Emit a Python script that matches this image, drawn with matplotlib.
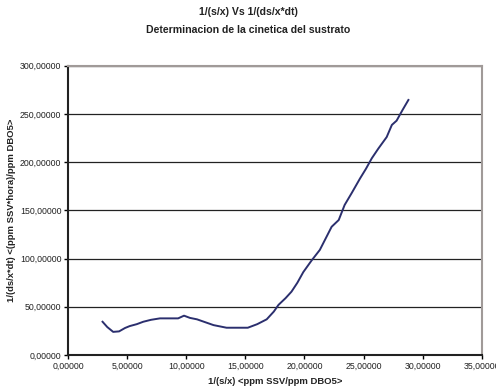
import matplotlib
matplotlib.use("Agg")
import matplotlib.pyplot as plt
from matplotlib.ticker import FuncFormatter

# values
x_vals = [2.9, 3.3, 3.8, 4.3, 4.8, 5.2, 5.8, 6.35, 7.0, 7.76, 8.5, 9.3, 9.8,
          10.3, 10.9, 11.6, 12.3, 13.4, 14.3, 15.2, 16.0, 16.8, 17.4, 17.8,
          18.4, 18.9, 19.4, 19.9, 20.6, 21.3, 21.8, 22.3, 22.9, 23.4, 24.0,
          24.7, 25.2, 25.7, 26.25, 26.96, 27.4, 27.8, 28.3, 28.8]
y_vals = [34.5, 29.0, 24.0, 24.5, 28.0, 30.0, 32.0, 34.5, 36.5, 38.0, 38.0, 38.0, 40.8,
          38.5, 37.0, 34.0, 31.0, 28.3, 28.3, 28.3, 32.0, 37.0, 45.0, 52.0,
          59.0, 65.7, 75.0, 86.0, 98.0, 109.0, 121.0, 133.0, 140.0, 155.6, 168.0,
          183.0, 193.0, 204.0, 214.0, 226.0, 238.6, 243.0, 254.0, 264.5]

title_1 = "1/(s/x) Vs 1/(ds/x*dt)"
title_2 = "Determinacion de la cinetica del sustrato"
x_label = "1/(s/x) <ppm SSV/ppm DBO5>"
y_label = "1/(ds/x*dt) <(ppm SSV*hora)/ppm DBO5>"

plt.rcParams['font.family'] = ['Liberation Sans', 'DejaVu Sans']

fig = plt.figure(figsize=(4.96, 3.9), dpi=100)
ax = fig.add_axes([0.1377, 0.0897, 0.8333, 0.7418])

ax.plot(x_vals, y_vals, color="#2b2f6e", lw=1.4)

ax.set_xlim(0, 35)
ax.set_ylim(0, 300)
ax.set_xticks(range(0, 36, 5))
ax.set_yticks(range(0, 301, 50))
fmt = FuncFormatter(lambda v, p: f"{v:.5f}".replace(".", ","))
ax.xaxis.set_major_formatter(fmt)
ax.yaxis.set_major_formatter(fmt)
ax.tick_params(labelsize=6.3, length=3, width=1, color="black", pad=2,
               labelcolor="#222222")
ax.grid(axis="y", color="#222222", lw=0.9)
ax.set_axisbelow(True)

for side in ("top", "right"):
    ax.spines[side].set_color("#a09a98")
    ax.spines[side].set_linewidth(1.5)
for side in ("left", "bottom"):
    ax.spines[side].set_color("#222222")
    ax.spines[side].set_linewidth(1.5)

ax.set_xlabel(x_label, fontsize=6.8, fontweight="bold", labelpad=4, color="#222222")
ax.set_ylabel(y_label, fontsize=6.8, fontweight="bold", labelpad=3, color="#222222")
fig.text(0.5, 0.969, title_1, ha="center", va="center", fontsize=7.6,
         fontweight="bold", color="#222222")
fig.text(0.5, 0.923, title_2, ha="center", va="center", fontsize=7.6,
         fontweight="bold", color="#222222")

fig.savefig("out.png", dpi=100)
